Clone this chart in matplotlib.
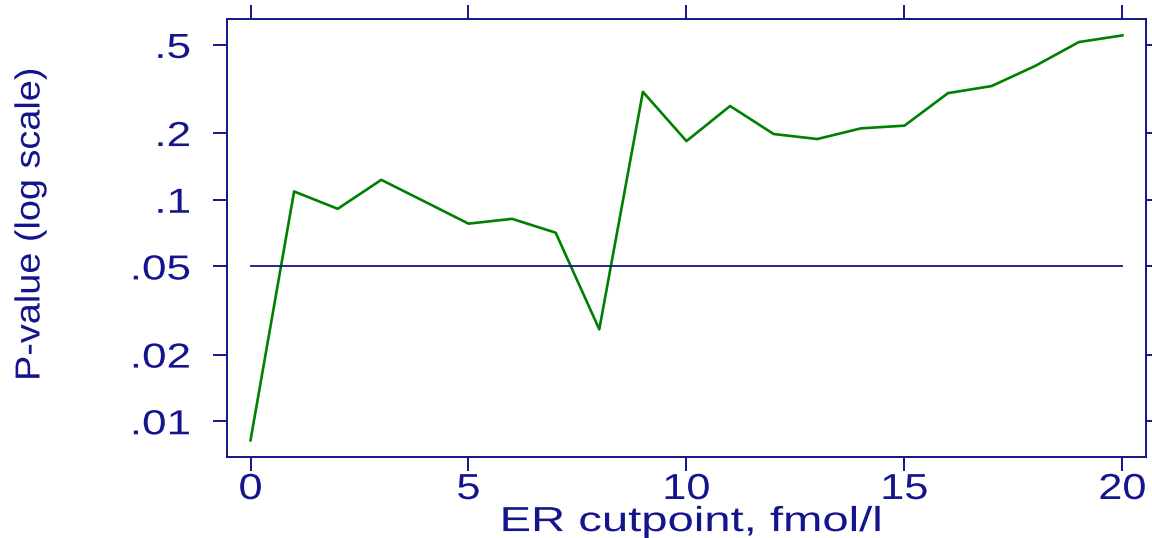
import matplotlib
matplotlib.use("Agg")
import matplotlib.pyplot as plt
import matplotlib.patheffects as pe
from matplotlib.transforms import Affine2D
from matplotlib.ticker import FixedLocator, FixedFormatter, NullLocator

cutpoints = list(range(0, 21))
pvalues = [0.0082, 0.109, 0.091, 0.123, 0.098, 0.078, 0.082, 0.071, 0.026,
           0.307, 0.184, 0.265, 0.198, 0.188, 0.210, 0.216, 0.303, 0.326,
           0.402, 0.515, 0.552]
ytick_vals = [0.01, 0.02, 0.05, 0.1, 0.2, 0.5]
ytick_labels = [".01", ".02", ".05", ".1", ".2", ".5"]
xtick_vals = [0, 5, 10, 15, 20]
alpha_level = 0.05

navy = "#14148c"
green = "#008000"


class Widen(pe.AbstractPathEffect):
    # stretch glyphs sideways (the reference font is wider than Arial)
    def __init__(self, sx, anchor="center"):
        super().__init__()
        self.sx = sx
        self.anchor = anchor

    def draw_path(self, renderer, gc, tpath, affine, rgbFace=None):
        ext = tpath.get_extents()
        px = ext.x1 if self.anchor == "right" else (ext.x0 + ext.x1) / 2
        pre = Affine2D().translate(-px, 0).scale(self.sx, 1).translate(px, 0)
        renderer.draw_path(gc, tpath, pre + affine, rgbFace)


plt.rcParams["font.family"] = ["Liberation Sans", "DejaVu Sans"]

fig = plt.figure(figsize=(11.52, 5.38), dpi=100)
ax = fig.add_axes([226.7 / 1152, 1 - 456.7 / 538, (1146 - 226.7) / 1152, (456.7 - 19.3) / 538])

ax.plot(cutpoints, pvalues, color=green, lw=1.9)
ax.plot([cutpoints[0], cutpoints[-1]], [alpha_level, alpha_level], color=navy, lw=1.3)

ax.set_yscale("log")
ax.set_xlim(-0.546, 20.54)
ax.set_ylim(0.00692, 0.6525)

ax.yaxis.set_major_locator(FixedLocator(ytick_vals))
ax.yaxis.set_major_formatter(FixedFormatter(ytick_labels))
ax.yaxis.set_minor_locator(NullLocator())
ax.set_xticks(xtick_vals)
ax.set_xticklabels([str(v) for v in xtick_vals])

for s in ax.spines.values():
    s.set_color(navy)
    s.set_linewidth(1.4)

ax.tick_params(axis="both", which="major", direction="out", length=10, width=1.4,
               color=navy, labelcolor=navy, top=True, right=True)
ax.tick_params(axis="x", labelsize=26, pad=1)
ax.tick_params(axis="y", labelsize=25, pad=16)

for lbl in ax.get_xticklabels():
    lbl.set_path_effects([Widen(1.2)])
for lbl in ax.get_yticklabels():
    lbl.set_path_effects([Widen(1.27, "right")])

ax.set_xlabel("ER cutpoint, fmol/l", fontsize=25, color=navy)
ax.xaxis.label.set_va("baseline")
ax.xaxis.set_label_coords(0.5054, -0.170)
ax.xaxis.label.set_path_effects([Widen(1.36)])

ax.set_ylabel("P-value (log scale)", fontsize=25, color=navy)
ax.yaxis.label.set_va("center")
ax.yaxis.set_label_coords(-0.214, 0.532)
ax.yaxis.label.set_path_effects([Widen(1.09)])

fig.savefig("out.png", dpi=100)
